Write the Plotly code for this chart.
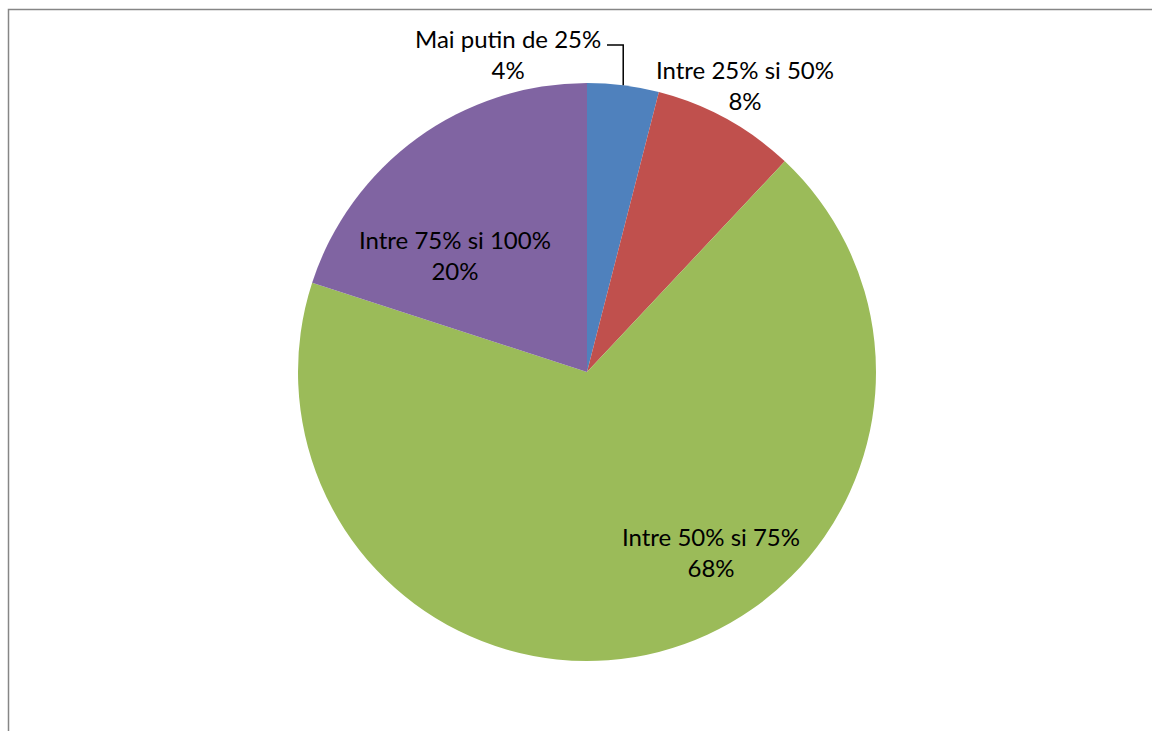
import math
import plotly.graph_objects as go

W, H = 1152, 731

categories = ["Mai putin de 25%", "Intre 25% si 50%", "Intre 50% si 75%", "Intre 75% si 100%"]
values = [4, 8, 68, 20]
colors = ["#4F81BD", "#C0504D", "#9BBB59", "#8064A2"]

# pie geometry (pixels)
cx, cy, r = 587, 372, 289
# label centres (pixels)
label_pos = [(508, 54), (745, 85), (711, 552), (455, 255)]

def px(x):
    return x / W

def py(y):
    return 1 - y / H

fig = go.Figure()
fig.add_trace(go.Pie(
    labels=categories,
    values=values,
    sort=False,
    direction="clockwise",
    rotation=0,
    marker=dict(colors=colors, line=dict(width=0)),
    textinfo="none",
    hoverinfo="label+percent",
    showlegend=False,
    domain=dict(x=[px(cx - r), px(cx + r)], y=[py(cy + r), py(cy - r)]),
))

total = sum(values)
font = dict(family="Lato, 'Open Sans', sans-serif", size=24, color="#000000")
for (lx, ly), cat, v in zip(label_pos, categories, values):
    fig.add_annotation(
        x=px(lx), y=py(ly), xref="paper", yref="paper",
        text=f"{cat}<br>{round(100 * v / total)}%",
        showarrow=False, xanchor="center", yanchor="middle",
        font=font, align="center",
    )

# leader line for the first slice
mid = values[0] / total * 360 / 2
ex = cx + r * math.sin(math.radians(mid))
ey = cy - r * math.cos(math.radians(mid))
fig.add_shape(type="path", xref="paper", yref="paper",
              path=f"M {px(607)} {py(45)} L {px(ex)} {py(45)} L {px(ex)} {py(ey)}",
              line=dict(color="#000000", width=1.5))

# chart frame
fig.add_shape(type="rect", xref="paper", yref="paper",
              x0=px(8.5), y0=-0.05, x1=1.05, y1=py(9.5),
              line=dict(color="#868686", width=1.5))

fig.update_layout(
    width=W, height=H,
    margin=dict(l=0, r=0, t=0, b=0),
    paper_bgcolor="#FFFFFF",
    plot_bgcolor="#FFFFFF",
)

fig.write_html(
    "out.html",
    config={"displayModeBar": False},
    post_script="document.body.style.margin='0';document.body.style.overflow='hidden';",
)
